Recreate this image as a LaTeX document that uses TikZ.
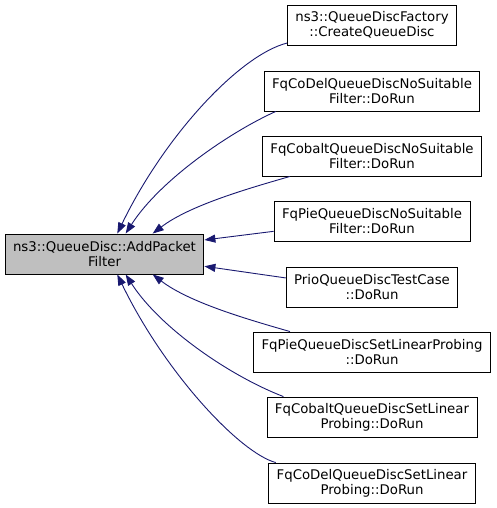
\documentclass[tikz,border=0pt]{standalone}
\usepackage{fontspec}
\setmainfont{DejaVu Sans}
\usepackage{tikz}
\usetikzlibrary{arrows.meta}
\definecolor{edgeblue}{HTML}{191970}
\definecolor{maingray}{HTML}{BFBFBF}

\begin{document}
\begin{tikzpicture}[x=1pt,y=-1pt]
    \tikzstyle{func}=[draw,text=black,rectangle,fill=white,align=center,line width=0.9pt,
        inner xsep=8pt,inner ysep=0pt,minimum height=40pt,font=\fontsize{13.3}{15}\selectfont]
    \tikzstyle{funcmain}=[func,fill=maingray]
    \tikzstyle{edge} = [draw,edgeblue,line width=0.9pt,-{Triangle[length=11pt,width=8pt]}]
    \useasboundingbox (0,0) rectangle (496,508);

    \node[funcmain] (m) at (104.5, 254) {ns3::QueueDisc::AddPacket\\Filter};

    \node[func] (c1) at (372, 25) {ns3::QueueDiscFactory\\::CreateQueueDisc};
    \node[func] (c2) at (372, 91) {FqCoDelQueueDiscNoSuitable\\Filter::DoRun};
    \node[func] (c3) at (372, 156) {FqCobaltQueueDiscNoSuitable\\Filter::DoRun};
    \node[func] (c4) at (372, 221) {FqPieQueueDiscNoSuitable\\Filter::DoRun};
    \node[func] (c5) at (372, 287) {PrioQueueDiscTestCase\\::DoRun};
    \node[func] (c6) at (372, 352) {FqPieQueueDiscSetLinearProbing\\::DoRun};
    \node[func] (c7) at (372, 417) {FqCobaltQueueDiscSetLinear\\Probing::DoRun};
    \node[func] (c8) at (372, 483) {FqCoDelQueueDiscSetLinear\\Probing::DoRun};

    % callers above
    \path[edge] (c1.192) .. controls (240,55) and (165,135) .. (m.58);
    \path[edge] (c2.192) .. controls (230,132) and (160,180) .. (m.44);
    \path[edge] (c3.194) .. controls (250,188) and (190,205) .. (m.23);
    \path[edge] (c4.186) -- (m.8);
    % callers below
    \path[edge] (c5.174) -- (m.-7);
    \path[edge] (c6.166) .. controls (250,320) and (190,303) .. (m.-23);
    \path[edge] (c7.167) .. controls (230,376) and (160,328) .. (m.-44);
    \path[edge] (c8.168) .. controls (240,453) and (165,373) .. (m.-58);

\end{tikzpicture}
\end{document}
